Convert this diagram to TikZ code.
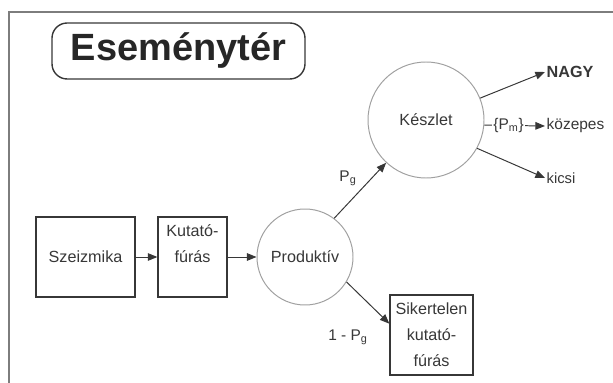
\documentclass[tikz,border=0pt]{standalone}
\usepackage{fontspec}
\setmainfont{Liberation Sans}
\usetikzlibrary{arrows.meta,positioning}
\definecolor{inkgrey}{RGB}{55,55,55}
\definecolor{ringgrey}{RGB}{160,160,160}
\definecolor{framegrey}{RGB}{125,125,125}
\tikzset{
  titlebox/.style={draw=inkgrey,line width=1pt,rounded corners=3.8mm,
                   minimum width=63.25mm,minimum height=14mm,inner sep=0pt,
                   font=\fontsize{27}{30}\selectfont\bfseries,text=black!85},
  stagebox/.style={draw=inkgrey,line width=.9pt,inner sep=0pt,align=center,
                   minimum height=20mm,font=\fontsize{11.5}{18.6}\selectfont,
                   text=inkgrey},
  state/.style={circle,draw=ringgrey,line width=.7pt,inner sep=0pt,
                font=\fontsize{11.5}{14}\selectfont,text=inkgrey},
  outcome/.style={anchor=west,inner sep=1pt,font=\fontsize{11}{13}\selectfont,
                  text=inkgrey},
  prob/.style={inner sep=1pt,font=\fontsize{11}{13}\selectfont,text=inkgrey},
  flow/.style={-{Triangle[length=2.4mm,width=1.9mm]},draw=inkgrey,line width=.7pt},
}

\begin{document}
\begin{tikzpicture}[x=0.25mm,y=-0.25mm]
  \useasboundingbox (0,0) rectangle (613,383);
  % page frame, left and top edges only
  \draw[framegrey,line width=1.3pt] (9,383) -- (9,12) -- (613,12);
  \node[titlebox] (title) at (178.5,51) {Eseménytér};
  % the exploration chain
  \node[stagebox,minimum width=24.75mm] (szeizmika) at (85.5,257) {Szeizmika};
  \node[stagebox,minimum width=17.25mm] (kutato) at (192.5,257)
    {Kutató-\\fúrás\\\mbox{}};
  \node[state,minimum size=24mm] (produktiv) at (305,257) {Produktív};
  \node[state,minimum size=29mm] (keszlet) at (426,120) {Készlet};
  \node[stagebox,minimum width=20.75mm] (sikertelen) at (431.5,335)
    {Sikertelen\\kutató-\\fúrás};
  % reserve classes
  \node[outcome,font=\fontsize{11.5}{13}\selectfont\bfseries] (nagy) at (545,72) {NAGY};
  \node[outcome] (kozepes) at (545,126) {közepes};
  \node[outcome,font=\fontsize{10.5}{13}\selectfont] (kicsi) at (545,178) {kicsi};
  % connectors
  \draw[flow] (szeizmika) -- (kutato);
  \draw[flow] (kutato) -- (produktiv);
  \draw[flow] (produktiv.53) -- (keszlet.227);
  \draw[flow] (produktiv.-31) -- (sikertelen.165);
  \node[prob] (pg) at (348,178) {P\textsubscript{g}};
  \node[prob] (pfail) at (348,337) {1 - P\textsubscript{g}};
  \draw[flow] (keszlet.22) -- (nagy.west);
  \draw[flow] (keszlet.-5) -- node[prob,pos=.4,fill=white] (pm)
    {\{P\textsubscript{m}\}} (kozepes.west);
  \draw[flow] (keszlet.-29) -- (kicsi.west);
\end{tikzpicture}
\end{document}
